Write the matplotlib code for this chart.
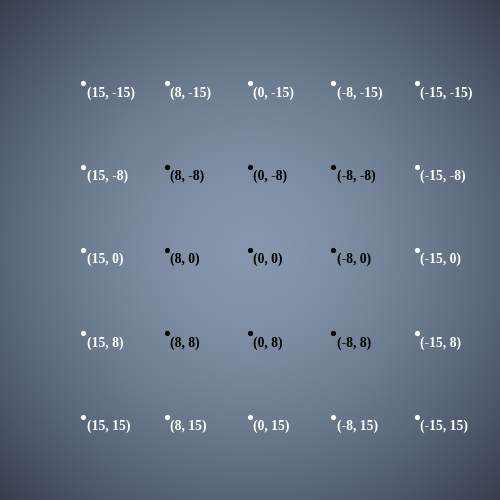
import matplotlib
matplotlib.use("Agg")
import matplotlib.pyplot as plt
import numpy as np
from matplotlib.colors import to_rgb

# grid values (label text), left->right and top->bottom
x_vals = [15, 8, 0, -8, -15]
y_vals = [-15, -8, 0, 8, 15]

# background radial gradient colours
center_col = np.array(to_rgb("#8797ad"))
corner_col = np.array(to_rgb("#363f50"))

fig = plt.figure(figsize=(5, 5), dpi=100)
ax = fig.add_axes([0, 0, 1, 1])
ax.set_xlim(0, 6)
ax.set_ylim(6, 0)
ax.axis("off")

# radial gradient
n = 300
u = np.linspace(-1, 1, n)
xx, yy = np.meshgrid(u, u)
t = np.clip(np.hypot(xx, yy) / np.sqrt(2), 0, 1) ** 1.6
img = center_col[None, None, :] + (corner_col - center_col)[None, None, :] * t[..., None]
ax.imshow(img, extent=[0, 6, 6, 0], aspect="auto", zorder=0)

for j, yv in enumerate(y_vals):
    for i, xv in enumerate(x_vals):
        inner = 0 < i < 4 and 0 < j < 4
        col = "black" if inner else "white"
        ax.scatter(i + 1, j + 1, s=14, color=col, zorder=3, linewidths=0)
        ax.annotate(f"({xv}, {yv})", (i + 1, j + 1), xytext=(2.5, -2),
                    textcoords="offset points", ha="left", va="top",
                    color=col, fontsize=9.8, fontweight="bold",
                    family="Liberation Serif")

fig.savefig("out.png", dpi=100)
